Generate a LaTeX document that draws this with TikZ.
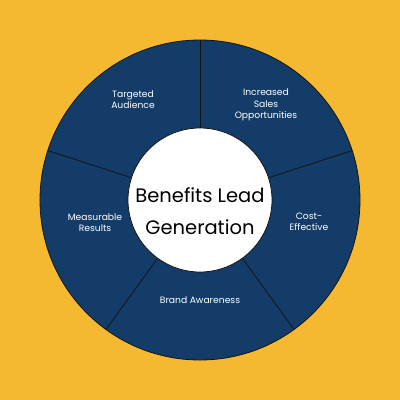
\documentclass[tikz,border=0pt]{standalone}
\usepackage{fontspec}
\setmainfont{Poppins}
\definecolor{bgyellow}{HTML}{F5B831}
\definecolor{navy}{HTML}{133C69}
\definecolor{edge}{HTML}{141414}
\tikzset{
  seglabel/.style={text=white, font=\fontsize{9.2}{11.3}\selectfont, align=center, inner sep=0pt},
  divider/.style={draw=edge, line width=0.8pt},
}
\begin{document}
\begin{tikzpicture}[x=1pt,y=1pt]
  \useasboundingbox (-200,-200) rectangle (200,200);
  \fill[bgyellow] (-200,-200) rectangle (200,200);
  \node[circle, minimum size=320pt, fill=navy, draw=edge, line width=0.8pt, inner sep=0pt] (outer) at (0,0) {};
  \foreach \a [count=\i] in {90,18,-54,-126,162} {
    \coordinate (o\i) at (\a:160);
    \coordinate (n\i) at (\a:72);
    \draw[divider] (n\i) -- (o\i);
  }
  \node[circle, minimum size=144pt, fill=white, draw=edge, line width=0.8pt, inner sep=0pt] (inner) at (0,0) {};
  \node[align=center, font=\fontsize{19.5}{32}\selectfont, text=black, inner sep=0pt] (title) at (0,-11) {Benefits Lead\\Generation};
  \node[seglabel] (ta) at (-67,100.5) {Targeted\\Audience};
  \node[seglabel] (iso) at (66,95) {Increased\\Sales\\Opportunities};
  \node[seglabel] (mr) at (-105,-22.5) {Measurable\\Results};
  \node[seglabel] (ce) at (109,-21.5) {Cost-\\Effective};
  \node[seglabel] (ba) at (0,-100) {Brand Awareness};
\end{tikzpicture}
\end{document}
